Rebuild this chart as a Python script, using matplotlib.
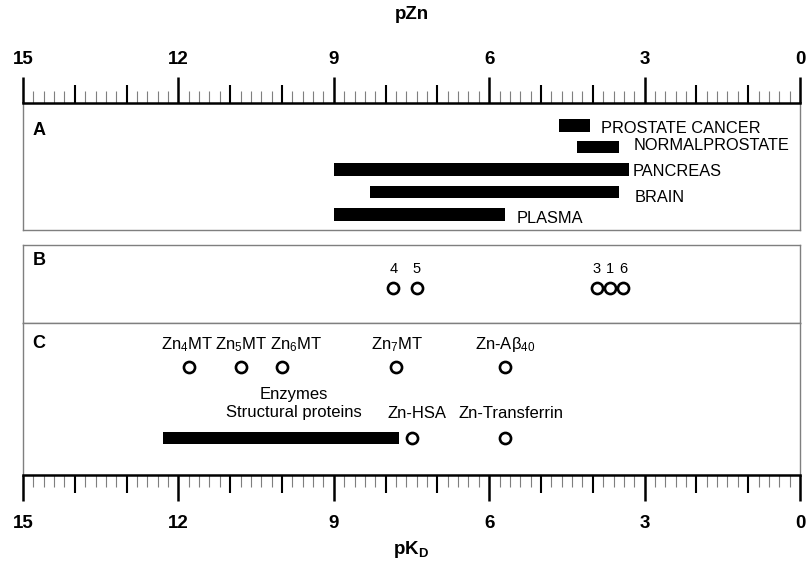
import numpy as np
import matplotlib
matplotlib.use('Agg')
import matplotlib.pyplot as plt

plt.rcParams['font.family'] = 'Liberation Sans'
plt.rcParams['mathtext.fontset'] = 'custom'
plt.rcParams['mathtext.rm'] = 'Liberation Sans'
plt.rcParams['mathtext.it'] = 'Liberation Sans:italic'
plt.rcParams['mathtext.bf'] = 'Liberation Sans:bold'
plt.rcParams['mathtext.default'] = 'rm'

# A: free Zn in tissues, range in pZn (from - to)
tissues = ['PROSTATE CANCER', 'NORMALPROSTATE', 'PANCREAS', 'BRAIN', 'PLASMA']
pzn_from = [4.65, 4.3, 9.0, 8.3, 9.0]
pzn_to = [4.05, 3.5, 3.3, 3.5, 5.7]

# B: sensors
sensors = ['4', '5', '3', '1', '6']
sensors_pkd = [7.85, 7.4, 3.92, 3.67, 3.41]

# C: zinc proteins
mt_names = ['Zn$_4$MT', 'Zn$_5$MT', 'Zn$_6$MT', 'Zn$_7$MT', 'Zn-Aβ$_{40}$']
mt_pkd = [11.8, 10.8, 10.0, 7.8, 5.7]
enzymes_range = [12.3, 7.75]
transport_names = ['Zn-HSA', 'Zn-Transferrin']
transport_pkd = [7.5, 5.7]

W, H = 806, 561
GREY = '#7f7f7f'


def panel(fig, top, bottom):
    '''Axes in pixel rows top..bottom, x from 15 to 0.'''
    ax = fig.add_axes([23 / W, 1 - bottom / H, 777 / W, (bottom - top) / H])
    ax.set_xlim(15, 0)
    ax.set_ylim(bottom, top)
    ax.set_yticks([])
    for s in ax.spines.values():
        s.set_color(GREY)
        s.set_linewidth(1.0)
    return ax


def ruler(ax, side, pad):
    '''Three levels of ticks: every 3 (labelled), every 1, every 0.2.'''
    ax.spines[side].set_color('black')
    ax.spines[side].set_linewidth(1.8)
    if side == 'top':
        ax.xaxis.set_ticks_position('top')
        ax.xaxis.set_label_position('top')
    major = list(range(0, 16, 3))
    ax.set_xticks(major, [str(v) for v in major], fontweight='bold', fontsize=13.5)
    minor = [v for v in np.round(np.arange(0, 15.01, 0.2), 1) if abs(v - round(v)) > 1e-6]
    ax.set_xticks(minor, minor=True)
    ax.tick_params(axis='x', which='major', direction='out', length=18.7, width=1.8, pad=pad)
    ax.tick_params(axis='x', which='minor', direction='out', length=8.6, width=0.8, color=GREY)
    sec = ax.secondary_xaxis(side)
    sec.set_xticks([v for v in range(16) if v % 3])
    sec.tick_params(axis='x', direction='out', length=13, width=1.5, labeltop=False, labelbottom=False)
    sec.spines[side].set_visible(False)


fig = plt.figure(figsize=(W / 100, H / 100), dpi=100)

# ---- A ----
ax_a = panel(fig, 103, 230)
ruler(ax_a, 'top', 6.5)
ax_a.set_xlabel('pZn', fontsize=13.5, fontweight='bold', labelpad=23)
rows_a = [125.3, 147, 169.7, 192, 214.5]
base_a = [133, 150, 176, 201.7, 223]
gap_a = [11, 15, 4, 16, 12]
ax_a.barh(rows_a, [f - t for f, t in zip(pzn_from, pzn_to)], left=pzn_to, height=12.5, color='black')
for name, x, yb, g in zip(tissues, pzn_to, base_a, gap_a):
    ax_a.annotate(name, (x, yb), xytext=(g * 0.72, 0), textcoords='offset points',
                  fontsize=11.8, va='baseline', ha='left')
ax_a.text(14.82, 135, 'A', fontsize=13, fontweight='bold', va='baseline')

# ---- B ----
ax_b = panel(fig, 245, 322.5)
ax_b.set_xticks([])
ax_b.plot(sensors_pkd, [288.3] * len(sensors_pkd), 'o', ms=8, mew=1.9, mfc='none', mec='black')
for name, x in zip(sensors, sensors_pkd):
    ax_b.text(x, 273.3, name, fontsize=10.5, ha='center', va='baseline')
ax_b.text(14.82, 265, 'B', fontsize=13, fontweight='bold', va='baseline')

# ---- C ----
ax_c = panel(fig, 322.5, 475)
ruler(ax_c, 'bottom', 10)
ax_c.set_xlabel(r'pK$_\mathbf{D}$', fontsize=13.5, fontweight='bold', labelpad=5)
ax_c.plot(mt_pkd, [367] * len(mt_pkd), 'o', ms=8, mew=1.9, mfc='none', mec='black')
mt_shift = [-2, 0, 14, 1, 0]
for name, x, dx in zip(mt_names, mt_pkd, mt_shift):
    ax_c.annotate(name, (x, 349.5), xytext=(dx * 0.72, 0), textcoords='offset points',
                  fontsize=12, ha='center', va='baseline')
ax_c.barh(438, enzymes_range[0] - enzymes_range[1], left=enzymes_range[1], height=12.5, color='black')
ax_c.text(9.77, 398.5, 'Enzymes', fontsize=12, ha='center', va='baseline')
ax_c.text(9.77, 417.5, 'Structural proteins', fontsize=12, ha='center', va='baseline')
ax_c.plot(transport_pkd, [438] * len(transport_pkd), 'o', ms=8, mew=1.9, mfc='none', mec='black')
for name, x in zip(transport_names, transport_pkd):
    ax_c.annotate(name, (x, 417.5), xytext=(4.3, 0), textcoords='offset points',
                  fontsize=12, ha='center', va='baseline')
ax_c.text(14.82, 347.7, 'C', fontsize=13, fontweight='bold', va='baseline')

fig.savefig('out.png', dpi=100)
